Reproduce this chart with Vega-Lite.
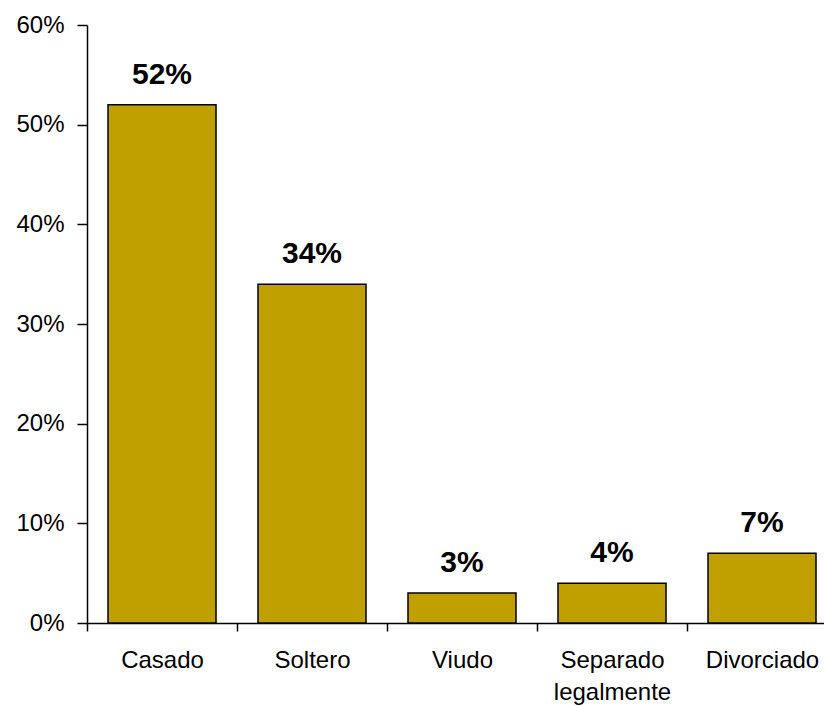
{
  "$schema": "https://vega.github.io/schema/vega-lite/v6.json",
  "width": 737,
  "height": 598,
  "autosize": {"type": "none"},
  "padding": {"left": 87, "top": 25, "right": 0, "bottom": 83},
  "background": "white",
  "config": {"view": {"stroke": null}, "font": "Liberation Sans"},
  "data": {"values": [
    {"estado": "Casado", "pct": 0.52},
    {"estado": "Soltero", "pct": 0.34},
    {"estado": "Viudo", "pct": 0.03},
    {"estado": "Separado legalmente", "pct": 0.04},
    {"estado": "Divorciado", "pct": 0.07}
  ]},
  "encoding": {
    "x": {
      "field": "estado", "type": "nominal", "sort": null,
      "scale": {"range": [0, 750], "paddingInner": 0, "paddingOuter": 0},
      "axis": {
        "title": null, "labelAngle": 0, "tickBand": "extent",
        "domainColor": "black", "tickColor": "black", "domainWidth": 1.5, "tickWidth": 1.5, "tickSize": 8,
        "labelFontSize": 24, "labelColor": "black", "labelPadding": 17, "labelLineHeight": 32,
        "labelExpr": "datum.label == 'Separado legalmente' ? ['Separado', 'legalmente'] : datum.label"
      }
    },
    "y": {
      "field": "pct", "type": "quantitative",
      "scale": {"domain": [0, 0.6]},
      "axis": {
        "title": null, "grid": false, "values": [0, 0.1, 0.2, 0.3, 0.4, 0.5, 0.6], "format": ".0%",
        "domainColor": "black", "tickColor": "black", "domainWidth": 1.5, "tickWidth": 1.5, "tickSize": 10,
        "labelFontSize": 24, "labelColor": "black", "labelPadding": 13
      }
    }
  },
  "layer": [
    {"mark": {"type": "bar", "color": "#C0A000", "stroke": "black", "strokeWidth": 1.5, "width": {"band": 0.72}}},
    {"mark": {"type": "text", "baseline": "alphabetic", "dy": -21, "fontSize": 30, "fontWeight": "bold", "color": "black"},
     "encoding": {"text": {"field": "pct", "type": "quantitative", "format": ".0%"}}}
  ]
}
